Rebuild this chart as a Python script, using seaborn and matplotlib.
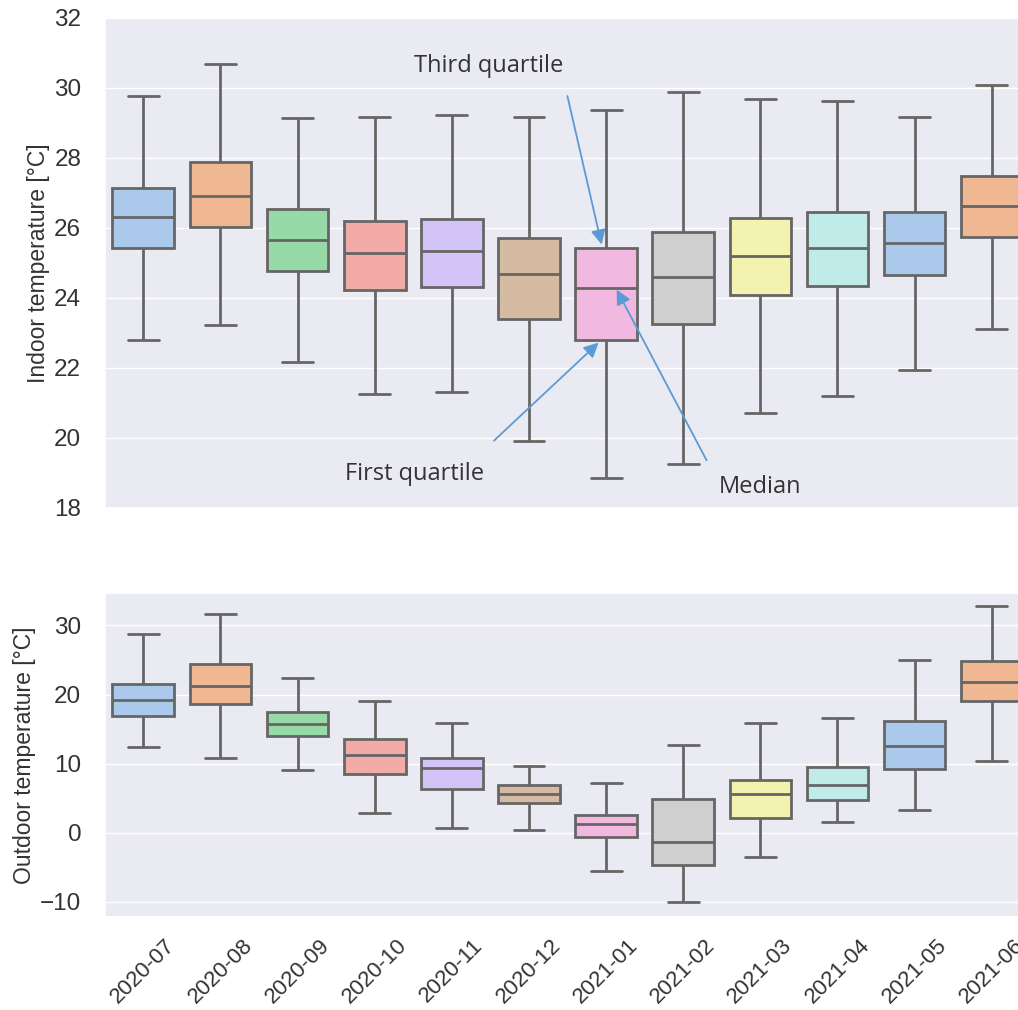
import pandas as pd
import numpy as np
import seaborn as sns
import matplotlib.pyplot as plt

# Monthly box stats: min, Q1, median, Q3, max
months = ['2020-07', '2020-08', '2020-09', '2020-10', '2020-11', '2020-12',
          '2021-01', '2021-02', '2021-03', '2021-04', '2021-05', '2021-06']

indoor_min = [22.79, 23.24, 22.16, 21.26, 21.32, 19.92, 18.86, 19.26, 20.71, 21.19, 21.93, 23.11]
indoor_q1 = [25.43, 26.02, 24.76, 24.24, 24.31, 23.41, 22.79, 23.26, 24.10, 24.35, 24.65, 25.73]
indoor_med = [26.31, 26.92, 25.67, 25.29, 25.33, 24.70, 24.30, 24.60, 25.19, 25.43, 25.57, 26.62]
indoor_q3 = [27.14, 27.89, 26.54, 26.21, 26.26, 25.71, 25.43, 25.89, 26.29, 26.46, 26.46, 27.48]
indoor_max = [29.76, 30.69, 29.14, 29.17, 29.22, 29.17, 29.38, 29.89, 29.69, 29.62, 29.17, 30.10]

outdoor_min = [12.41, 10.82, 9.13, 2.92, 0.75, 0.46, -5.52, -10.10, -3.49, 1.57, 3.35, 10.34]
outdoor_q1 = [16.89, 18.58, 14.05, 8.46, 6.34, 4.36, -0.60, -4.70, 2.14, 4.70, 9.28, 19.01]
outdoor_med = [19.25, 21.18, 15.69, 11.30, 9.37, 5.66, 1.33, -1.33, 5.57, 6.87, 12.55, 21.81]
outdoor_q3 = [21.57, 24.46, 17.47, 13.61, 10.87, 6.96, 2.63, 4.94, 7.69, 9.52, 16.17, 24.84]
outdoor_max = [28.80, 31.59, 22.43, 19.06, 15.93, 9.66, 7.20, 12.65, 15.93, 16.60, 25.04, 32.89]


def long_form(mins, q1s, meds, q3s, maxs):
    # five values per month give exactly these quartiles with linear percentiles
    rows = []
    for m, a, b, c, d, e in zip(months, mins, q1s, meds, q3s, maxs):
        for v in (a, b, c, d, e):
            rows.append({'month': m, 'temp': v})
    return pd.DataFrame(rows)


indoor = long_form(indoor_min, indoor_q1, indoor_med, indoor_q3, indoor_max)
outdoor = long_form(outdoor_min, outdoor_q1, outdoor_med, outdoor_q3, outdoor_max)

sns.set_theme(style='darkgrid')
plt.rcParams['font.family'] = ['Liberation Sans', 'DejaVu Sans']

fig = plt.figure(figsize=(10.18, 10.10), dpi=100)
ax1 = fig.add_axes([0.1029, 1 - 508 / 1010, 0.9092, 490 / 1010])
ax2 = fig.add_axes([0.1029, 1 - 917 / 1010, 0.9092, 324 / 1010])

box_kw = dict(x='month', y='temp', hue='month', palette='pastel', legend=False,
              whis=(0, 100), width=0.8, linewidth=2, linecolor='#666666')

sns.boxplot(data=indoor, ax=ax1, **box_kw)
sns.boxplot(data=outdoor, ax=ax2, **box_kw)

ax1.set_ylim(18, 32)
ax1.set_yticks(range(18, 33, 2))
ax1.set_xlabel('')
ax1.set_xticklabels([])
ax1.set_ylabel('Indoor temperature [°C]', fontsize=16.5, color='#333333', labelpad=3)
ax1.tick_params(axis='y', labelsize=17.5, pad=11, colors='#333333')
ax1.set_xlim(-0.5, 11.5)

ax2.set_ylim(-12.2, 34.7)
ax2.set_yticks([-10, 0, 10, 20, 30])
ax2.set_xlabel('')
ax2.set_ylabel('Outdoor temperature [°C]', fontsize=16.5, color='#333333', labelpad=3)
ax2.tick_params(axis='y', labelsize=17.5, pad=11, colors='#333333')
ax2.tick_params(axis='x', labelsize=16, pad=7, colors='#333333')
ax2.set_xlim(-0.5, 11.5)
plt.setp(ax2.get_xticklabels(), rotation=45, ha='center')

# annotations on the January box
arrow = dict(arrowstyle='-|>', color='#5b9bd5', lw=1.3, mutation_scale=22)
note_font = dict(family='Open Sans', fontsize=17, color='#333333', ha='center', va='center')

ax1.annotate('', xy=(5.95, 25.45), xytext=(5.49, 29.85), arrowprops=arrow)
ax1.annotate('', xy=(5.93, 22.78), xytext=(4.52, 19.87), arrowprops=arrow)
ax1.annotate('', xy=(6.12, 24.31), xytext=(7.32, 19.29), arrowprops=arrow)
ax1.text(4.48, 30.62, 'Third quartile', **note_font)
ax1.text(3.52, 18.98, 'First quartile', **note_font)
ax1.text(7.99, 18.6, 'Median', **note_font)

plt.savefig('out.png', dpi=100)
